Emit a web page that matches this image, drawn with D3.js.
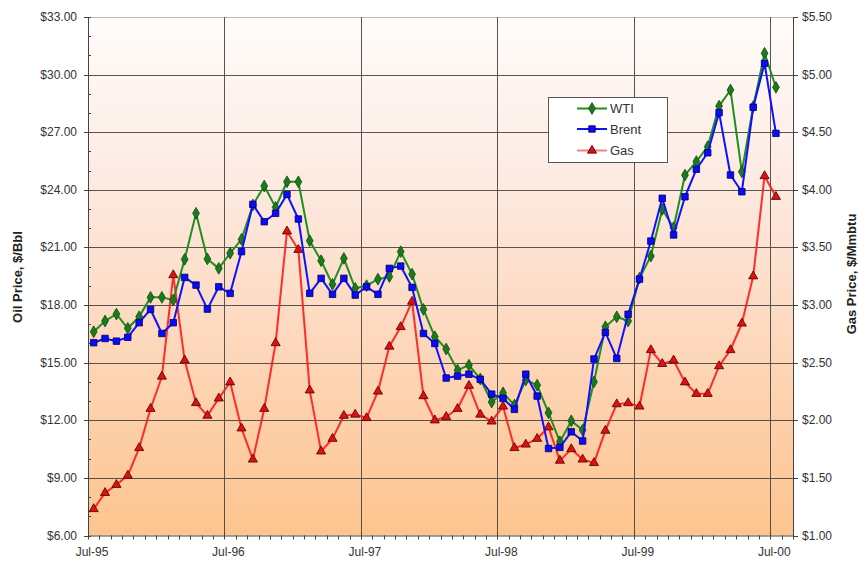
<!DOCTYPE html>
<html>
<head>
<meta charset="utf-8">
<script src="https://cdn.jsdelivr.net/npm/d3@7"></script>
<style>
  html, body { margin: 0; padding: 0; background: #ffffff; }
  svg { display: block; }
  text { font-family: "Liberation Sans", Arial, sans-serif; }
</style>
</head>
<body>
<svg id="chart" width="858" height="564"></svg>
<script>
// ---------- DATA ----------
const months = [
  "Jul-95","Aug-95","Sep-95","Oct-95","Nov-95","Dec-95",
  "Jan-96","Feb-96","Mar-96","Apr-96","May-96","Jun-96",
  "Jul-96","Aug-96","Sep-96","Oct-96","Nov-96","Dec-96",
  "Jan-97","Feb-97","Mar-97","Apr-97","May-97","Jun-97",
  "Jul-97","Aug-97","Sep-97","Oct-97","Nov-97","Dec-97",
  "Jan-98","Feb-98","Mar-98","Apr-98","May-98","Jun-98",
  "Jul-98","Aug-98","Sep-98","Oct-98","Nov-98","Dec-98",
  "Jan-99","Feb-99","Mar-99","Apr-99","May-99","Jun-99",
  "Jul-99","Aug-99","Sep-99","Oct-99","Nov-99","Dec-99",
  "Jan-00","Feb-00","Mar-00","Apr-00","May-00","Jun-00",
  "Jul-00"
];
const wti = [
  16.61,17.17,17.53,16.79,17.39,18.40,
  18.40,18.26,20.38,22.78,20.40,19.91,
  20.70,21.42,23.21,24.20,23.09,24.42,
  24.42,21.35,20.31,19.08,20.43,18.87,
  19.01,19.35,19.48,20.78,19.61,17.77,
  16.35,15.71,14.61,14.87,14.15,12.95,
  13.43,12.79,14.10,13.83,12.39,10.88,
  11.97,11.49,14.00,16.87,17.39,17.17,
  19.40,20.55,22.98,22.03,24.77,25.47,
  26.25,28.36,29.20,24.94,28.33,31.11,
  29.34
];
const brent = [
  16.04,16.26,16.12,16.32,17.08,17.77,
  16.52,17.08,19.44,19.04,17.79,18.95,
  18.61,20.78,23.24,22.34,22.78,23.76,
  22.48,18.61,19.39,18.56,19.39,18.52,
  18.95,18.56,19.91,20.03,18.92,16.52,
  16.00,14.20,14.30,14.40,14.13,13.36,
  13.14,12.57,14.40,13.26,10.53,10.59,
  11.40,10.92,15.19,16.58,15.22,17.52,
  19.35,21.33,23.56,21.65,23.64,25.07,
  25.93,28.02,24.77,23.90,28.30,30.59,
  26.94
];
const gas = [
  1.23,1.37,1.44,1.52,1.76,2.10,
  2.38,3.26,2.52,2.15,2.04,2.19,
  2.33,1.93,1.66,2.10,2.67,3.64,
  3.48,2.26,1.73,1.84,2.04,2.05,
  2.02,2.25,2.64,2.81,3.03,2.21,
  2.00,2.03,2.10,2.30,2.05,1.99,
  2.12,1.76,1.79,1.84,1.94,1.65,
  1.75,1.66,1.63,1.91,2.14,2.15,
  2.12,2.61,2.49,2.52,2.33,2.23,
  2.23,2.47,2.61,2.84,3.25,4.12,
  3.94
];
const xTickLabels = ["Jul-95","Jul-96","Jul-97","Jul-98","Jul-99","Jul-00"];
const oilTicks = [6,9,12,15,18,21,24,27,30,33];
const gasTicks = [1,1.5,2,2.5,3,3.5,4,4.5,5,5.5];
const seriesNames = ["WTI","Brent","Gas"];

// ---------- LAYOUT ----------
const svg = d3.select("#chart");
const L = 88, R = 793, T = 17, B = 535.5;
const allMonths = months.concat(["Aug-00"]); // axis runs one extra month past last point
const x = d3.scaleBand().domain(allMonths).range([L, R]).paddingInner(0).paddingOuter(0);
const bw = x.bandwidth();
const cx = m => x(m) + bw / 2;
const yOil = d3.scaleLinear().domain([6, 33]).range([B, T]);
const yGas = d3.scaleLinear().domain([1, 5.5]).range([B, T]);

// background gradient
const defs = svg.append("defs");
const grad = defs.append("linearGradient").attr("id", "bg")
  .attr("x1", 0).attr("y1", 0).attr("x2", 0).attr("y2", 1);
[[0, "#fffcfa"], [0.3, "#fdebe3"], [0.6, "#fdd9bf"], [1, "#fdc48e"]].forEach(s =>
  grad.append("stop").attr("offset", s[0]).attr("stop-color", s[1]));
svg.append("rect").attr("x", L).attr("y", T).attr("width", R - L).attr("height", B - T)
  .attr("fill", "url(#bg)");

// grid
const grid = svg.append("g").attr("stroke", "#444").attr("stroke-width", 1).attr("opacity", 0.9);
oilTicks.forEach(v => {
  if (v === 6) return;
  grid.append("line").attr("x1", L).attr("x2", R)
    .attr("y1", Math.round(yOil(v)) + 0.5).attr("y2", Math.round(yOil(v)) + 0.5)
    .attr("stroke", v === 33 ? "#b8b8b8" : "#444");
});
xTickLabels.forEach(m => {
  if (m === "Jul-95") return;
  const xx = Math.round(x(m)) + 0.5;
  grid.append("line").attr("x1", xx).attr("x2", xx).attr("y1", T).attr("y2", B);
});

// axes
const axisColor = "#444";
const tickFont = 12;
// left axis
const gl = svg.append("g");
gl.append("line").attr("x1", L + 0.5).attr("x2", L + 0.5).attr("y1", T).attr("y2", B + 0.5)
  .attr("stroke", axisColor);
d3.range(6, 33.01, 1).forEach(v => {
  const yy = Math.round(yOil(v)) + 0.5;
  const major = (v - 6) % 3 === 0;
  gl.append("line").attr("x1", major ? L - 4 : L + 0.5).attr("x2", L + 3)
    .attr("y1", yy).attr("y2", yy).attr("stroke", axisColor);
});
oilTicks.forEach(v => {
  gl.append("text").attr("x", 77).attr("y", yOil(v) + 4)
    .attr("text-anchor", "end").attr("font-size", tickFont).attr("fill", "#333")
    .text("$" + d3.format(".2f")(v));
});
// right axis
const gr = svg.append("g");
gr.append("line").attr("x1", R + 0.5).attr("x2", R + 0.5).attr("y1", T).attr("y2", B + 0.5)
  .attr("stroke", axisColor);
gasTicks.forEach(v => {
  const yy = Math.round(yGas(v)) + 0.5;
  gr.append("line").attr("x1", R).attr("x2", R + 5).attr("y1", yy).attr("y2", yy).attr("stroke", axisColor);
  gr.append("text").attr("x", 802).attr("y", yGas(v) + 4)
    .attr("text-anchor", "start").attr("font-size", tickFont).attr("fill", "#333")
    .text("$" + d3.format(".2f")(v));
});
// bottom axis
const gb = svg.append("g");
gb.append("line").attr("x1", L).attr("x2", R + 1).attr("y1", B + 0.5).attr("y2", B + 0.5).attr("stroke", axisColor);
allMonths.forEach(m => {
  const xx = Math.round(x(m)) + 0.5;
  const major = xTickLabels.includes(m);
  gb.append("line").attr("x1", xx).attr("x2", xx)
    .attr("y1", major ? B - 3 : B).attr("y2", B + 4).attr("stroke", axisColor);
});
gb.append("line").attr("x1", R + 0.5).attr("x2", R + 0.5).attr("y1", B).attr("y2", B + 4).attr("stroke", axisColor);
xTickLabels.forEach(m => {
  gb.append("text").attr("x", x(m) + 4).attr("y", 556)
    .attr("text-anchor", "middle").attr("font-size", tickFont).attr("fill", "#333").text(m);
});

// axis titles
svg.append("text").attr("transform", "translate(22,277) rotate(-90)")
  .attr("text-anchor", "middle").attr("font-size", 13).attr("font-weight", "bold").attr("fill", "#222")
  .text("Oil Price, $/Bbl");
svg.append("text").attr("transform", "translate(856,274) rotate(-90)")
  .attr("text-anchor", "middle").attr("font-size", 13).attr("font-weight", "bold").attr("fill", "#222")
  .text("Gas Price, $/Mmbtu");

// series
const styles = {
  WTI:   { line: "#1f8f1f", fill: "#1b7a1b", stroke: "#0d4d0d", shape: d3.symbolDiamond, size: 40, scale: yOil, data: wti },
  Brent: { line: "#1010ff", fill: "#0a0aff", stroke: "#00005a", shape: d3.symbolSquare, size: 42, scale: yOil, data: brent },
  Gas:   { line: "#ff1a1a", fill: "#e01010", stroke: "#4a0000", shape: d3.symbolTriangle, size: 36, scale: yGas, data: gas }
};
const drawOrder = ["Gas", "WTI", "Brent"];
drawOrder.forEach(name => {
  const s = styles[name];
  const pts = months.map((m, i) => [cx(m), s.scale(s.data[i])]);
  svg.append("path").attr("d", d3.line()(pts)).attr("fill", "none")
    .attr("stroke", s.line).attr("stroke-width", 2).attr("stroke-linejoin", "round")
    .attr("opacity", name === "Gas" ? 0.9 : 1);
  svg.append("g").selectAll("path").data(pts).join("path")
    .attr("transform", d => `translate(${d[0]},${d[1]})`)
    .attr("d", d3.symbol().type(s.shape).size(s.size))
    .attr("fill", s.fill).attr("stroke", s.stroke).attr("stroke-width", 0.8);
});

// legend
const lg = svg.append("g");
lg.append("rect").attr("x", 548.5).attr("y", 97.5).attr("width", 119).attr("height", 65)
  .attr("fill", "#ffffff").attr("stroke", "#555").attr("stroke-width", 1);
const legY = [108.5, 129, 150.5];
seriesNames.forEach((name, i) => {
  const s = styles[name];
  lg.append("line").attr("x1", 577).attr("x2", 607).attr("y1", legY[i]).attr("y2", legY[i])
    .attr("stroke", name === "Gas" ? "#ff7a7a" : s.line).attr("stroke-width", 2);
  lg.append("path").attr("transform", `translate(592,${legY[i]})`)
    .attr("d", d3.symbol().type(s.shape).size(s.size))
    .attr("fill", s.fill).attr("stroke", s.stroke).attr("stroke-width", 0.8);
  lg.append("text").attr("x", 610).attr("y", legY[i] + 4.5).attr("font-size", 13).attr("fill", "#333").text(name);
});
</script>
</body>
</html>
